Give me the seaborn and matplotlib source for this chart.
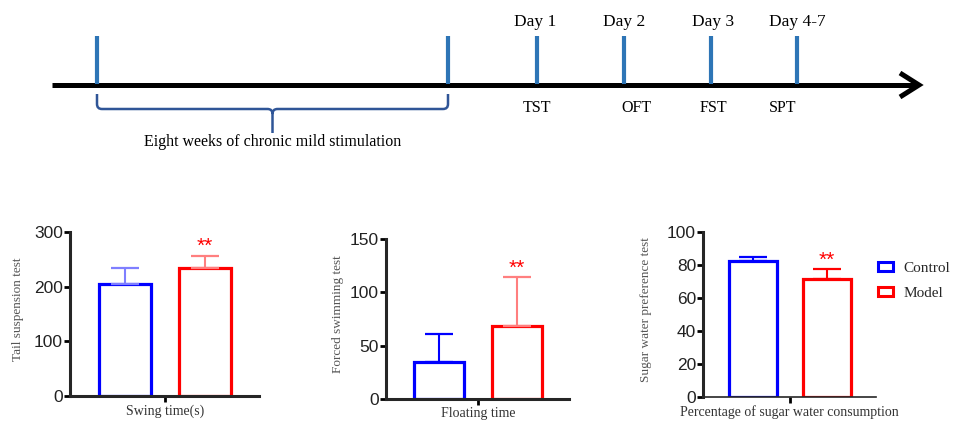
import numpy as np
import pandas as pd
import matplotlib
matplotlib.use("Agg")
import matplotlib.pyplot as plt
import seaborn as sns
from matplotlib.path import Path
from matplotlib.patches import PathPatch, Patch

# Data
groups = ["Control", "Model"]
tst_mean = [205, 235]
tst_sd = [30, 22]
fst_mean = [35, 68]
fst_sd = [26, 46]
spt_mean = [82.5, 71.6]
spt_sd = [2.4, 5.7]

# Timeline text
day_labels = ["Day 1", "Day 2", "Day 3", "Day 4-7"]
test_labels = ["TST", "OFT", "FST", "SPT"]
period_label = "Eight weeks of chronic mild stimulation"

sns.set_theme(style="ticks")
plt.rcParams['font.family'] = ['Liberation Serif', 'DejaVu Serif']

SERIF = 'Liberation Serif'
SANS = 'Liberation Sans'
BLUE = '#0000FF'
RED = '#FF0000'
TICK_BLUE = '#2E75B6'
BRACE_BLUE = '#2F5597'

W, H = 966, 429
fig = plt.figure(figsize=(W / 100, H / 100), dpi=100)

# ---- timeline drawn in pixel coordinates ----
ax0 = fig.add_axes([0, 0, 1, 1])
ax0.set_xlim(0, W)
ax0.set_ylim(H, 0)
ax0.axis('off')

line_y = 85
ax0.plot([52, 918], [line_y, line_y], color='black', lw=3.6, solid_capstyle='butt')
ax0.plot([900, 919, 900], [73, line_y, 97], color='black', lw=3.6,
         solid_joinstyle='miter', solid_capstyle='butt')

start_x = [97, 448]
day_x = [537, 624, 711, 797]
for x in start_x + day_x:
    ax0.plot([x, x], [36, line_y - 1], color=TICK_BLUE, lw=3, solid_capstyle='butt')

day_text_x = [535, 624, 713, 797]
test_text_x = [537, 636, 713, 783]
for lab, x in zip(day_labels, day_text_x):
    ax0.text(x, 22, lab, ha='center', va='center', fontsize=12.5, family=SERIF, color='black')
for lab, x in zip(test_labels, test_text_x):
    ax0.text(x, 108, lab, ha='center', va='center', fontsize=11.5, family=SERIF, color='black')

# brace under the stimulation period
xl, xr = start_x
xm = (xl + xr) / 2
yb = 109
verts = [(xl, 94), (xl, 104), (xl, yb), (xl + 5, yb), (xm - 5, yb), (xm, yb), (xm, yb + 5), (xm, 133),
         (xr, 94), (xr, 104), (xr, yb), (xr - 5, yb), (xm + 5, yb), (xm, yb), (xm, yb + 5)]
codes = [Path.MOVETO, Path.LINETO, Path.CURVE3, Path.CURVE3, Path.LINETO, Path.CURVE3, Path.CURVE3, Path.LINETO,
         Path.MOVETO, Path.LINETO, Path.CURVE3, Path.CURVE3, Path.LINETO, Path.CURVE3, Path.CURVE3]
ax0.add_patch(PathPatch(Path(verts, codes), fill=False, edgecolor=BRACE_BLUE, lw=1.8))
ax0.text(xm, 142, period_label, ha='center', va='center', fontsize=11.5, family=SERIF, color='black')


# ---- bar panels ----
def px_axes(left, right, top, bottom):
    return fig.add_axes([left / W, (H - bottom) / H, (right - left) / W, (bottom - top) / H])


XLIM = (-0.68, 1.67)


def bar_panel(ax, means, sds, ymax, step, ylabel, xlabel, err_colors, ylab_x, bottom_lw=2.2):
    df = pd.DataFrame({'group': groups, 'value': means})
    sns.barplot(data=df, x='group', y='value', hue='group', palette=[BLUE, RED],
                fill=False, linewidth=2.3, width=0.65, errorbar=None, legend=False, ax=ax)
    for i, (m, s) in enumerate(zip(means, sds)):
        ax.errorbar(i, m, yerr=[[0], [s]], color=err_colors[i], capsize=10, capthick=1.6,
                    elinewidth=1.5, fmt='none', zorder=1)
    top = means[1] + sds[1]
    ax.annotate('**', xy=(1, top), xytext=(0, 0), textcoords='offset points', ha='center',
                va='bottom', fontsize=15, color=RED, family=SANS)
    ax.set_xlim(*XLIM)
    ax.set_ylim(0, ymax)
    ax.set_yticks(np.arange(0, ymax + 1, step))
    ax.set_xticks([0.5])
    ax.set_xticklabels([''])
    for lab in ax.get_yticklabels():
        lab.set_family(SANS)
        lab.set_fontsize(12.5)
        lab.set_color('#222222')
    sns.despine(ax=ax)
    ax.spines['left'].set_linewidth(2.2)
    ax.spines['bottom'].set_linewidth(bottom_lw)
    ax.tick_params(axis='y', length=4, width=2, pad=1, color='black')
    ax.tick_params(axis='x', length=4, width=2, color='black')
    ax.set_ylabel(ylabel, family=SERIF, fontsize=9.5, color='#555555')
    ax.yaxis.set_label_coords(ylab_x, 0.53)
    ax.set_xlabel(xlabel, family=SERIF, fontsize=10, color='#333333')
    ax.xaxis.set_label_coords((0.5 - XLIM[0]) / (XLIM[1] - XLIM[0]), -0.05)


ax1 = px_axes(70, 259, 232, 396)
bar_panel(ax1, tst_mean, tst_sd, 300, 100, 'Tail suspension test', 'Swing time(s)',
          ['#7F7FFF', '#FF7F7F'], -0.243)

ax2 = px_axes(386, 569, 239, 399)
bar_panel(ax2, fst_mean, fst_sd, 150, 50, 'Forced swimming test', 'Floating time',
          [BLUE, '#FF7F7F'], -0.228)

ax3 = px_axes(703, 876, 232, 397)
bar_panel(ax3, spt_mean, spt_sd, 100, 20, 'Sugar water preference test',
          'Percentage of sugar water consumption', [BLUE, RED], -0.293, bottom_lw=1.2)

handles = [Patch(facecolor='white', edgecolor=c, lw=2.2, label=g) for g, c in zip(groups, [BLUE, RED])]
ax3.legend(handles=handles, loc='upper left', bbox_to_anchor=(0.93, 0.9), frameon=False,
           handlelength=1.0, handleheight=0.5, handletextpad=0.7, labelspacing=0.75,
           prop={'family': SERIF, 'size': 11})

fig.savefig('out.png', dpi=100)
